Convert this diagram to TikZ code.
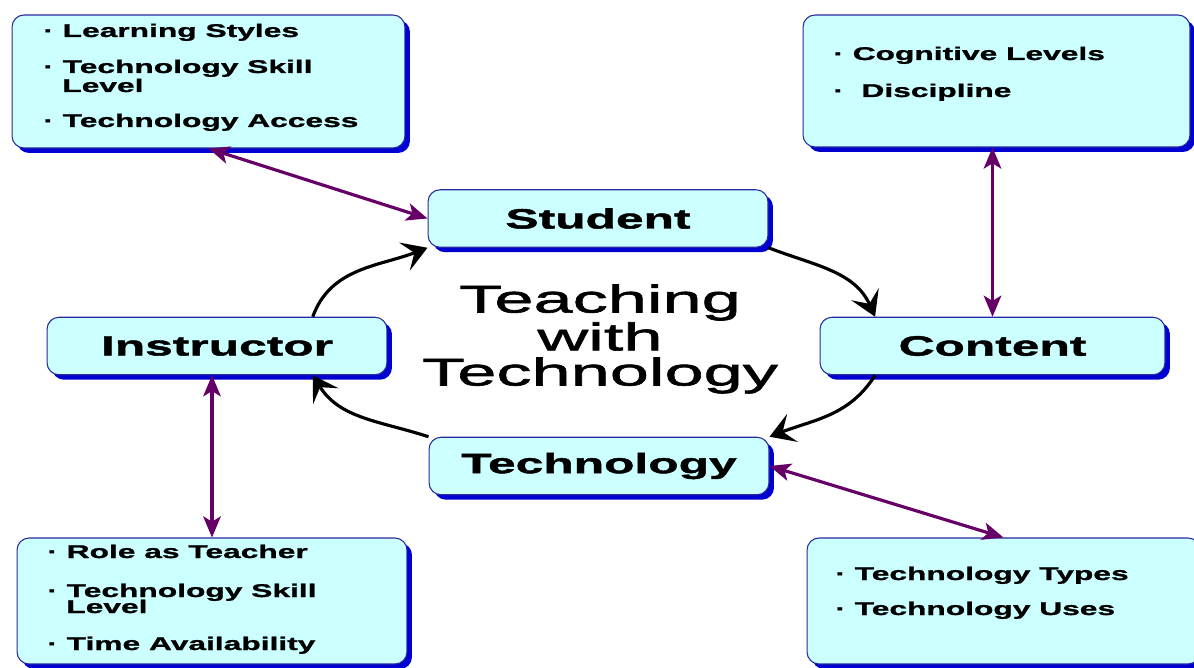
\documentclass[tikz,border=0pt]{standalone}
\usepackage{fontspec}
\setmainfont{Liberation Sans}
\newfontfamily\labelfont[FakeStretch=1.78,FakeBold=1.6]{Liberation Sans}
\newfontfamily\listfont[FakeStretch=1.72,FakeBold=1.3]{Liberation Sans}
\newfontfamily\titlefont[FakeStretch=1.82,FakeBold=1.6]{Liberation Sans}
\usetikzlibrary{arrows.meta,shadows}
\definecolor{boxfill}{RGB}{204,255,255}
\definecolor{boxline}{RGB}{40,40,160}
\definecolor{boxshadow}{RGB}{0,0,210}
\definecolor{linkpurple}{RGB}{102,0,102}

\begin{document}
\begin{tikzpicture}[x=0.02cm,y=0.02cm,
  box/.style={draw=boxline, line width=0.6pt, fill=boxfill, rounded corners=0.24cm,
    drop shadow={shadow xshift=0.1cm, shadow yshift=-0.1cm, fill=boxshadow, opacity=1}},
  role/.style={box, minimum width=6.8cm, minimum height=1.15cm,
    font=\labelfont\bfseries\fontsize{15.9}{19}\selectfont},
  listbox/.style={box},
  item/.style={anchor=base west, inner sep=0pt,
    font=\listfont\bfseries\fontsize{10.5}{12}\selectfont},
  cycle/.style={line width=1.8pt, -{Stealth[length=14pt,width=17pt,inset=6pt]}},
  link/.style={draw=linkpurple, line width=1.8pt,
    {Stealth[length=12pt,width=10pt,inset=3pt]}-{Stealth[length=12pt,width=10pt,inset=3pt]}}]
\useasboundingbox (0,0) rectangle (1194,667);

\node[listbox, minimum width=7.86cm, minimum height=2.66cm] (learnerbox) at (208.5,585.5) {};
\node[listbox, minimum width=7.74cm, minimum height=2.64cm] (subjectbox) at (996.5,586) {};
\node[listbox, minimum width=7.8cm, minimum height=2.52cm] (teacherbox) at (212,66) {};
\node[listbox, minimum width=7.86cm, minimum height=2.52cm] (toolbox) at (1003.5,66) {};

\node[role] (student) at (598,448.5) {Student};
\node[role] (instructor) at (217,321) {Instructor};
\node[role, minimum width=6.9cm] (content) at (992.5,321) {Content};
\node[role] (technology) at (599,201) {Technology};

\node[font=\titlefont\fontsize{22}{20}\selectfont, align=center] (title) at (600,328) {Teaching\\with\\Technology};

\foreach \x/\y/\t [count=\i] in {43/630/· Learning Styles, 43/594/· Technology Skill, 62/575/Level,
    43/540/· Technology Access, 833/607/· Cognitive Levels, 833/570/·\ \ Discipline,
    47/109/· Role as Teacher, 47/70/· Technology Skill, 66/54/Level, 47/17/· Time Availability,
    835/87/· Technology Types, 835/52/· Technology Uses}
  \node[item] (item\i) at (\x,\y) {\t};

\draw[link] (learnerbox.south) -- (student.west);
\draw[link] (content.north) -- (content.north |- subjectbox.south);
\draw[link] (teacherbox.north) -- (teacherbox.north |- instructor.south);
\draw[link] (technology.east) -- (toolbox.north);

\draw[cycle] (instructor.17) to[out=70,in=201] (student.south west);
\draw[cycle] (student.south east) to[out=-21,in=114] (content.166);
\draw[cycle] (content.194) to[out=238,in=21] (technology.north east);
\draw[cycle] (technology.north west) to[out=162,in=302] (instructor.-17);
\end{tikzpicture}
\end{document}
